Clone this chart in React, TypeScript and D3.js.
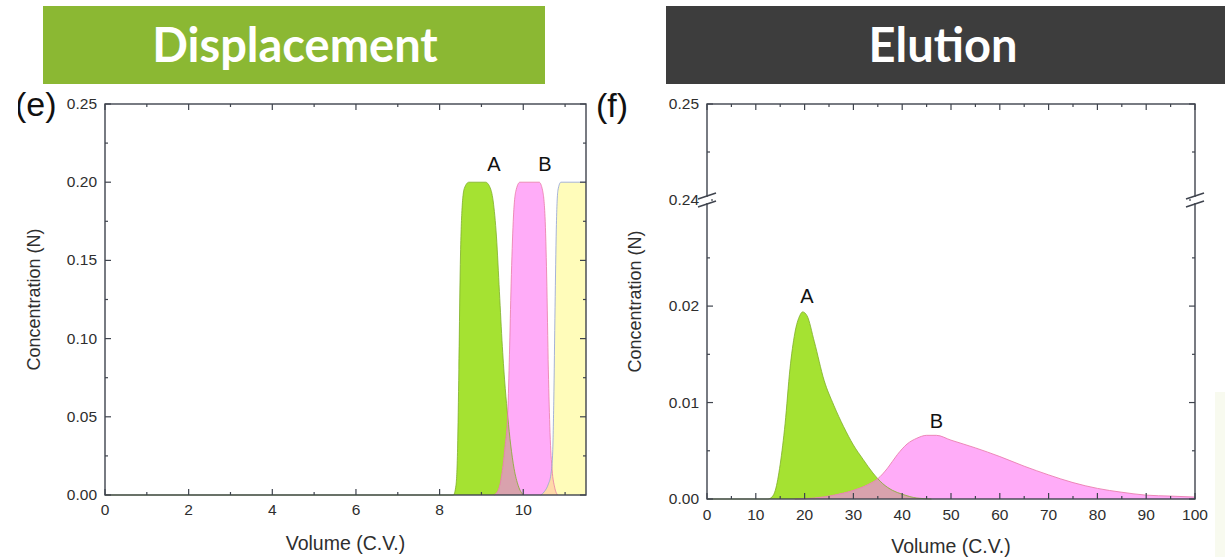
import * as d3 from 'd3';

// ---- Displacement (e): volume (C.V.) vs concentration (N)
const dispA: [number, number][] = [
  [0, 0], [8.33, 0], [8.39, 0.006], [8.43, 0.03], [8.46, 0.08], [8.49, 0.14], [8.53, 0.18], [8.59, 0.196],
  [8.7, 0.2], [9.1, 0.2], [9.2, 0.197], [9.28, 0.188], [9.36, 0.165], [9.43, 0.13], [9.5, 0.095],
  [9.57, 0.068], [9.63, 0.05], [9.7, 0.032], [9.78, 0.017], [9.88, 0.006], [10.0, 0],
];
const dispB: [number, number][] = [
  [9.3, 0], [9.4, 0.003], [9.48, 0.012], [9.56, 0.03], [9.63, 0.053], [9.67, 0.09], [9.71, 0.135],
  [9.76, 0.175], [9.82, 0.194], [9.92, 0.2], [10.38, 0.2], [10.46, 0.195], [10.52, 0.178],
  [10.56, 0.14], [10.6, 0.08], [10.64, 0.04], [10.69, 0.016], [10.75, 0.005], [10.82, 0],
];
const dispC: [number, number][] = [
  [10.42, 0], [10.5, 0.002], [10.6, 0.007], [10.66, 0.013], [10.7, 0.025], [10.73, 0.06],
  [10.76, 0.12], [10.79, 0.17], [10.83, 0.195], [10.9, 0.2], [11.5, 0.2],
];
const dispXMajor = [0, 2, 4, 6, 8, 10];
const dispXMinor = [1, 3, 5, 7, 9, 11];
const dispYMajor = [0, 0.05, 0.1, 0.15, 0.2, 0.25];
const dispYMinor = [0.025, 0.075, 0.125, 0.175, 0.225];

// ---- Elution (f)
const eluA: [number, number][] = [
  [0, 0], [12.5, 0], [13.3, 0.0002], [14, 0.0009], [15, 0.0036], [16, 0.0078], [17, 0.0135],
  [18, 0.0172], [19, 0.019], [19.6, 0.0194], [20.5, 0.019], [22, 0.0163], [24, 0.0123],
  [26, 0.0097], [28, 0.0075], [30, 0.0056], [32, 0.0041], [34, 0.0027], [36, 0.0016],
  [38, 0.0009], [40, 0.0005], [43, 0.0001], [46, 0],
];
const eluB: [number, number][] = [
  [18, 0], [22, 0.0001], [26, 0.0004], [30, 0.0009], [33, 0.0015], [35, 0.0021], [37, 0.0032],
  [39, 0.0046], [41, 0.0057], [43, 0.0063], [45, 0.0066], [47, 0.0066], [50, 0.0061],
  [55, 0.0053], [60, 0.0044], [65, 0.0034], [70, 0.0025], [75, 0.0017], [80, 0.0011],
  [85, 0.0007], [90, 0.0004], [95, 0.0003], [100, 0.0002],
];
const eluXMajor = [0, 10, 20, 30, 40, 50, 60, 70, 80, 90, 100];
const eluXMinor = [5, 15, 25, 35, 45, 55, 65, 75, 85, 95];
const eluYLowMajor = [0, 0.01, 0.02];
const eluYLowMinor = [0.005, 0.015, 0.025];
const eluYHighMajor = [0.24, 0.25];
const eluYHighMinor = [0.245];

const FONT = '"Liberation Sans", Arial, Helvetica, sans-serif';
const FRAME = '#3f444e';
const TXT = '#2e2e2e';
const GREEN = '#a5e232';
const PINK = '#ffacf8';
const YELLOW = '#fffcba';
const ROSY = '#d9a2ad';
const PEACH = '#ffd9a8';

function areaPath(x: d3.ScaleLinear<number, number>, y: (v: number) => number, y0: number, data: [number, number][]) {
  return d3.area<[number, number]>()
    .x(d => x(d[0]))
    .y0(y0)
    .y1(d => y(d[1]))
    .curve(d3.curveMonotoneX)(data) as string;
}
function linePath(x: d3.ScaleLinear<number, number>, y: (v: number) => number, data: [number, number][]) {
  return d3.line<[number, number]>()
    .x(d => x(d[0]))
    .y(d => y(d[1]))
    .curve(d3.curveMonotoneX)(data) as string;
}

function Displacement() {
  const x = d3.scaleLinear().domain([0, 11.5]).range([105, 586]);
  const y = d3.scaleLinear().domain([0, 0.25]).range([495, 104]);
  const [x0, x1] = x.range();
  const [yb, yt] = y.range();
  const aPath = areaPath(x, y, yb, dispA);
  const bPath = areaPath(x, y, yb, dispB);
  const cPath = areaPath(x, y, yb, dispC);
  return (
    <g fontFamily={FONT}>
      <defs>
        <clipPath id="clipDA"><path d={aPath} /></clipPath>
        <clipPath id="clipDB"><path d={bPath} /></clipPath>
        <clipPath id="clipE"><rect x={18} y={80} width={60} height={50} /></clipPath>
      </defs>
      <path d={aPath} fill={GREEN} />
      <path d={bPath} fill={PINK} />
      <path d={cPath} fill={YELLOW} />
      <path d={bPath} fill={ROSY} clipPath="url(#clipDA)" />
      <path d={cPath} fill={PEACH} clipPath="url(#clipDB)" />
      <path d={linePath(x, y, dispA)} fill="none" stroke="#7fae2a" strokeWidth={0.8} />
      <path d={linePath(x, y, dispB)} fill="none" stroke="#e97aa6" strokeWidth={0.8} />
      <path d={linePath(x, y, dispC)} fill="none" stroke="#8ea0d8" strokeWidth={0.8} />
      <rect x={x0} y={yt} width={x1 - x0} height={yb - yt} fill="none" stroke={FRAME} strokeWidth={1.4} />
      {dispXMajor.map(v => (
        <g key={'xm' + v}>
          <line x1={x(v)} x2={x(v)} y1={yb} y2={yb - 6} stroke={FRAME} strokeWidth={1.2} />
          <line x1={x(v)} x2={x(v)} y1={yt} y2={yt + 6} stroke={FRAME} strokeWidth={1.2} />
          <text x={x(v)} y={yb + 20} textAnchor="middle" fontSize={15.5} fill={TXT}>{v}</text>
        </g>
      ))}
      {dispXMinor.map(v => (
        <g key={'xn' + v}>
          <line x1={x(v)} x2={x(v)} y1={yb} y2={yb - 3} stroke={FRAME} strokeWidth={1.2} />
          <line x1={x(v)} x2={x(v)} y1={yt} y2={yt + 3} stroke={FRAME} strokeWidth={1.2} />
        </g>
      ))}
      {dispYMajor.map(v => (
        <g key={'ym' + v}>
          <line x1={x0} x2={x0 + 6} y1={y(v)} y2={y(v)} stroke={FRAME} strokeWidth={1.2} />
          <line x1={x1} x2={x1 - 6} y1={y(v)} y2={y(v)} stroke={FRAME} strokeWidth={1.2} />
          <text x={x0 - 8} y={y(v) + 5} textAnchor="end" fontSize={15.5} fill={TXT}>{v.toFixed(2)}</text>
        </g>
      ))}
      {dispYMinor.map(v => (
        <g key={'yn' + v}>
          <line x1={x0} x2={x0 + 3} y1={y(v)} y2={y(v)} stroke={FRAME} strokeWidth={1.2} />
          <line x1={x1} x2={x1 - 3} y1={y(v)} y2={y(v)} stroke={FRAME} strokeWidth={1.2} />
        </g>
      ))}
      <text x={(x0 + x1) / 2} y={550} textAnchor="middle" fontSize={19.5} fill={TXT}>Volume (C.V.)</text>
      <text transform={`translate(40,${(yt + yb) / 2}) rotate(-90)`} textAnchor="middle" fontSize={18} fill={TXT}>Concentration (N)</text>
      <text x={x(9.3)} y={171} textAnchor="middle" fontSize={20} fill="#111">A</text>
      <text x={x(10.52)} y={171} textAnchor="middle" fontSize={20} fill="#111">B</text>
      <text x={15} y={116} fontSize={34} fill="#111" clipPath="url(#clipE)">(e)</text>
    </g>
  );
}

function Elution() {
  const x = d3.scaleLinear().domain([0, 100]).range([707, 1195]);
  const yLow = d3.scaleLinear().domain([0, 0.031]).range([499, 200]);
  const yHigh = d3.scaleLinear().domain([0.24, 0.25]).range([200, 104]);
  const [x0, x1] = x.range();
  const yb = 499, yt = 104, yBreak = 200;
  const aPath = areaPath(x, yLow, yb, eluA);
  const bPath = areaPath(x, yLow, yb, eluB);
  const brk = (cx: number) => (
    <g>
      <rect x={cx - 4} y={yBreak - 3} width={8} height={6} fill="#fff" />
      <line x1={cx - 9} x2={cx + 9} y1={yBreak - 1} y2={yBreak - 7} stroke={FRAME} strokeWidth={1.5} />
      <line x1={cx - 9} x2={cx + 9} y1={yBreak + 7} y2={yBreak + 1} stroke={FRAME} strokeWidth={1.5} />
    </g>
  );
  return (
    <g fontFamily={FONT}>
      <defs>
        <clipPath id="clipEA"><path d={aPath} /></clipPath>
      </defs>
      <path d={aPath} fill={GREEN} />
      <path d={bPath} fill={PINK} />
      <path d={bPath} fill={ROSY} clipPath="url(#clipEA)" />
      <path d={linePath(x, yLow, eluA)} fill="none" stroke="#7fae2a" strokeWidth={0.8} />
      <path d={linePath(x, yLow, eluB)} fill="none" stroke="#ea7fb0" strokeWidth={0.9} />
      <rect x={x0} y={yt} width={x1 - x0} height={yb - yt} fill="none" stroke={FRAME} strokeWidth={1.4} />
      {eluXMajor.map(v => (
        <g key={'xm' + v}>
          <line x1={x(v)} x2={x(v)} y1={yb} y2={yb - 6} stroke={FRAME} strokeWidth={1.2} />
          <line x1={x(v)} x2={x(v)} y1={yt} y2={yt + 6} stroke={FRAME} strokeWidth={1.2} />
          <text x={x(v)} y={yb + 21} textAnchor="middle" fontSize={15.5} fill={TXT}>{v}</text>
        </g>
      ))}
      {eluXMinor.map(v => (
        <g key={'xn' + v}>
          <line x1={x(v)} x2={x(v)} y1={yb} y2={yb - 3} stroke={FRAME} strokeWidth={1.2} />
          <line x1={x(v)} x2={x(v)} y1={yt} y2={yt + 3} stroke={FRAME} strokeWidth={1.2} />
        </g>
      ))}
      {eluYLowMajor.map(v => (
        <g key={'ylm' + v}>
          <line x1={x0} x2={x0 + 6} y1={yLow(v)} y2={yLow(v)} stroke={FRAME} strokeWidth={1.2} />
          <line x1={x1} x2={x1 - 6} y1={yLow(v)} y2={yLow(v)} stroke={FRAME} strokeWidth={1.2} />
          <text x={x0 - 8} y={yLow(v) + 5} textAnchor="end" fontSize={15.5} fill={TXT}>{v.toFixed(2)}</text>
        </g>
      ))}
      {eluYLowMinor.map(v => (
        <g key={'yln' + v}>
          <line x1={x0} x2={x0 + 3} y1={yLow(v)} y2={yLow(v)} stroke={FRAME} strokeWidth={1.2} />
          <line x1={x1} x2={x1 - 3} y1={yLow(v)} y2={yLow(v)} stroke={FRAME} strokeWidth={1.2} />
        </g>
      ))}
      {eluYHighMajor.map(v => (
        <g key={'yhm' + v}>
          <line x1={x0} x2={x0 + 6} y1={yHigh(v)} y2={yHigh(v)} stroke={FRAME} strokeWidth={1.2} />
          <line x1={x1} x2={x1 - 6} y1={yHigh(v)} y2={yHigh(v)} stroke={FRAME} strokeWidth={1.2} />
          <text x={x0 - 8} y={yHigh(v) + 5} textAnchor="end" fontSize={15.5} fill={TXT}>{v.toFixed(2)}</text>
        </g>
      ))}
      {eluYHighMinor.map(v => (
        <g key={'yhn' + v}>
          <line x1={x0} x2={x0 + 3} y1={yHigh(v)} y2={yHigh(v)} stroke={FRAME} strokeWidth={1.2} />
          <line x1={x1} x2={x1 - 3} y1={yHigh(v)} y2={yHigh(v)} stroke={FRAME} strokeWidth={1.2} />
        </g>
      ))}
      {brk(x0)}
      {brk(x1)}
      <text x={(x0 + x1) / 2} y={553} textAnchor="middle" fontSize={19.5} fill={TXT}>Volume (C.V.)</text>
      <text transform={`translate(641,${(yt + yb) / 2}) rotate(-90)`} textAnchor="middle" fontSize={18} fill={TXT}>Concentration (N)</text>
      <text x={x(20.5)} y={303} textAnchor="middle" fontSize={20} fill="#111">A</text>
      <text x={x(47)} y={428} textAnchor="middle" fontSize={20} fill="#111">B</text>
      <text x={596} y={117} fontSize={34} fill="#111">(f)</text>
    </g>
  );
}

export default function App() {
  return (
    <svg width={1225} height={557} style={{ position: 'absolute', left: 0, top: 0, background: '#fff' }}>
      <rect x={0} y={0} width={1225} height={557} fill="#fff" />
      <rect x={1215} y={392} width={10} height={165} fill="#f8faef" />
      <rect x={43} y={6} width={502} height={78} fill="#8bb833" />
      <text x={295} y={62} textAnchor="middle" fontFamily="Lato, 'Open Sans', sans-serif" fontWeight={700} fontSize={47} fill="#fff">Displacement</text>
      <rect x={666} y={6} width={559} height={78} fill="#3d3d3d" />
      <text x={943} y={62} textAnchor="middle" fontFamily="Lato, 'Open Sans', sans-serif" fontWeight={700} fontSize={47} fill="#fff">Elution</text>
      <Displacement />
      <Elution />
    </svg>
  );
}
